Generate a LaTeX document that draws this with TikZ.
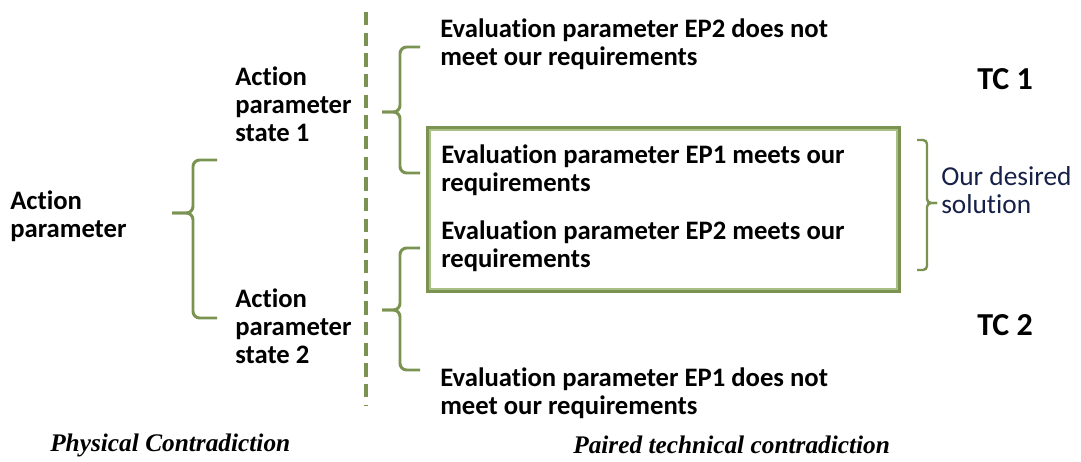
\documentclass[tikz,border=0pt]{standalone}
\usepackage{fontspec}
\setmainfont{Carlito}[Ligatures=NoCommon]
\newfontfamily\timesfont{Liberation Serif}
\definecolor{olivegr}{RGB}{122,147,80}
\definecolor{olivelt}{RGB}{170,190,135}
\definecolor{navytxt}{RGB}{22,32,72}

\begin{document}
\begin{tikzpicture}[x=0.75pt,y=-0.75pt,
  txt/.style={anchor=west, align=left, inner sep=0pt, font=\fontsize{20}{21}\selectfont\bfseries},
  brace/.style={draw=olivegr, line width=2.2pt, rounded corners=5pt},
  caption/.style={anchor=west, inner sep=0pt, font=\fontsize{19}{22}\selectfont\timesfont\bfseries\itshape}]
  \useasboundingbox (0,0) rectangle (1081,461);
  % separator
  \draw[olivegr, line width=2.4pt, dash pattern=on 10pt off 5.5pt] (366,12) -- (366,405);
  % desired solution box
  \draw[olivegr, line width=3pt] (428,128) rectangle (899,291);
  \draw[olivelt, line width=1pt] (430,130) rectangle (897,289);
  % texts
  \node[txt] (ap) at (10,216) {Action\\parameter};
  \node[txt] (aps1) at (235,104) {Action\\parameter\\state 1};
  \node[txt] (aps2) at (235,326) {Action\\parameter\\state 2};
  \node[txt] (ep2no) at (440,44) {Evaluation parameter EP2 does not\\meet our requirements};
  \node[txt] (ep1ok) at (441,170) {Evaluation parameter EP1 meets our\\requirements};
  \node[txt] (ep2ok) at (441,246) {Evaluation parameter EP2 meets our\\requirements};
  \node[txt] (ep1no) at (440,393) {Evaluation parameter EP1 does not\\meet our requirements};
  \node[anchor=west, align=left, inner sep=0pt, text=navytxt, font=\fontsize{20.5}{20.5}\selectfont] (sol) at (941,190) {Our desired\\solution};
  \node[txt, font=\fontsize{24}{26}\selectfont\bfseries] (tc1) at (977,79) {TC 1};
  \node[txt, font=\fontsize{24}{26}\selectfont\bfseries] (tc2) at (977,325) {TC 2};
  \node[caption] (pc) at (50,445) {Physical Contradiction};
  \node[caption] (ptc) at (573,445) {Paired technical contradiction};
  % braces
  \draw[brace] (217,160) -- (193,160) -- (193,213) -- (172,213);
  \draw[brace] (172,213) -- (193,213) -- (193,318) -- (217,318);
  \draw[brace] (420,47) -- (400,47) -- (400,112) -- (382,112);
  \draw[brace] (382,112) -- (400,112) -- (400,173) -- (420,173);
  \draw[brace] (420,248) -- (400,248) -- (400,310) -- (382,310);
  \draw[brace] (382,310) -- (400,310) -- (400,370) -- (420,370);
  \draw[brace, line width=1.8pt, rounded corners=3pt] (917,140) -- (927,140) -- (927,203) -- (937,203);
  \draw[brace, line width=1.8pt, rounded corners=3pt] (937,203) -- (927,203) -- (927,270) -- (917,270);
\end{tikzpicture}
\end{document}
